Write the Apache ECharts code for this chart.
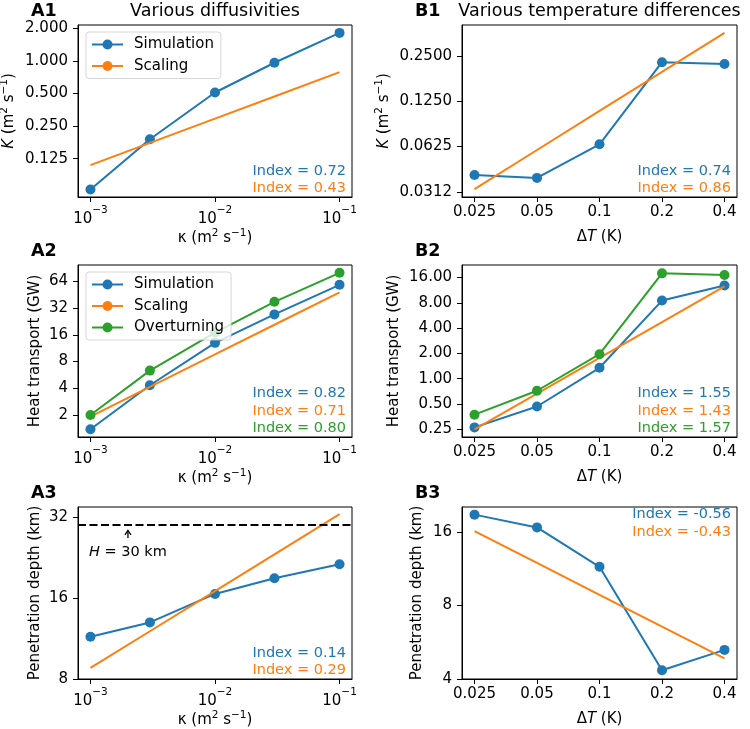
<!DOCTYPE html>
<html><head><meta charset="utf-8">
<script src="https://cdn.jsdelivr.net/npm/echarts@6/dist/echarts.min.js"></script>
<style>html,body{margin:0;padding:0;background:#fff}#c{width:750px;height:729px}</style>
</head><body><div id="c"></div>
<script>
// ---------- data ----------
const kappa = [0.001, 0.003, 0.01, 0.03, 0.1];
const deltaT = [0.025, 0.05, 0.1, 0.2, 0.4];

const a1Sim = [0.065, 0.189, 0.51, 0.96, 1.81];
const a1Scale = [0.109, 0.175, 0.293, 0.469, 0.786];
const b1Sim = [0.0405, 0.0387, 0.0647, 0.227, 0.221];
const b1Scale = [0.0326, 0.0593, 0.1078, 0.196, 0.356];
const a2Sim = [1.38, 4.33, 13.0, 27.2, 58.6];
const a2Scale = [1.92, 4.14, 9.62, 20.8, 48.1];
const a2Over = [2.0, 6.33, 17.0, 37.7, 80];
const b2Sim = [0.264, 0.468, 1.35, 8.5, 12.85];
const b2Scale = [0.25, 0.665, 1.77, 4.70, 12.5];
const b2Over = [0.374, 0.72, 1.96, 17.9, 17.1];
const a3Sim = [11.5, 13.0, 16.6, 19.0, 21.4];
const a3Scale = [8.8, 12.05, 17.0, 23.3, 32.9];
const b3Sim = [18.8, 16.67, 11.5, 4.34, 5.26];
const b3Scale = [16.1, 11.93, 8.84, 6.55, 4.86];
const domainDepth = 30;          // H = 30 km
const annotKappa = 0.002;        // x of the H annotation arrow

const indexA1 = ['Index = 0.72', 'Index = 0.43'];
const indexB1 = ['Index = 0.74', 'Index = 0.86'];
const indexA2 = ['Index = 0.82', 'Index = 0.71', 'Index = 0.80'];
const indexB2 = ['Index = 1.55', 'Index = 1.43', 'Index = 1.57'];
const indexA3 = ['Index = 0.14', 'Index = 0.29'];
const indexB3 = ['Index = -0.56', 'Index = -0.43'];

// ticks
const kappaTicks = [0.001, 0.01, 0.1];
const kappaTickLabels = ['{b|10}{s|−3}', '{b|10}{s|−2}', '{b|10}{s|−1}'];
const dTTicks = [0.025, 0.05, 0.1, 0.2, 0.4];
const dTTickLabels = ['0.025', '0.05', '0.1', '0.2', '0.4'];
const a1YTicks = [0.125, 0.25, 0.5, 1, 2];
const a1YTickLabels = ['0.125', '0.250', '0.500', '1.000', '2.000'];
const b1YTicks = [0.03125, 0.0625, 0.125, 0.25];
const b1YTickLabels = ['0.0312', '0.0625', '0.1250', '0.2500'];
const a2YTicks = [2, 4, 8, 16, 32, 64];
const a2YTickLabels = ['2', '4', '8', '16', '32', '64'];
const b2YTicks = [0.25, 0.5, 1, 2, 4, 8, 16];
const b2YTickLabels = ['0.25', '0.50', '1.00', '2.00', '4.00', '8.00', '16.00'];
const a3YTicks = [8, 16, 32];
const a3YTickLabels = ['8', '16', '32'];
const b3YTicks = [4, 8, 16];
const b3YTickLabels = ['4', '8', '16'];

// axis ranges
const kappaRange = [7.943e-4, 0.12589];
const dTRange = [0.021764, 0.45948];
const a1YRange = [0.0554, 2.14];
const b1YRange = [0.0289, 0.401];
const a2YRange = [1.13, 98];
const b2YRange = [0.203, 22.5];
const a3YRange = [7.999, 35];
const b3YRange = [3.9995, 20.2];

// axis names
const kappaName = 'κ (m{s|2} s{s|−1})';
const dTName = 'Δ{i|T} (K)';
const kName = '{i|K} (m{s|2} s{s|−1})';
const heatName = 'Heat transport (GW)';
const depthName = 'Penetration depth (km)';

// ---------- style / layout ----------
const FONT = 'DejaVu Sans';
const COL = { blue: '#1f77b4', orange: '#ff7f0e', green: '#2ca02c' };
const GRID_COL = { A: { left: 78, width: 274 }, B: { left: 462, width: 275 } };
const ROW_TOP = [25, 265, 507];
const ROW_H = 172;
const FS = 15;
const IFS = 14.5;

const panels = [
  { id: 'A1', col: 'A', row: 0, x: kappa, xt: kappaTicks, xl: kappaTickLabels, xr: kappaRange, xn: kappaName,
    yt: a1YTicks, yl: a1YTickLabels, yr: a1YRange, yn: kName, yGap: 59,
    series: [['Simulation', a1Sim, 'blue', true], ['Scaling', a1Scale, 'orange', false]],
    index: indexA1, idxColors: ['blue', 'orange'], idxTop: false,
    legend: ['Simulation', 'Scaling'], title: 'Various diffusivities' },
  { id: 'B1', col: 'B', row: 0, x: deltaT, xt: dTTicks, xl: dTTickLabels, xr: dTRange, xn: dTName,
    yt: b1YTicks, yl: b1YTickLabels, yr: b1YRange, yn: kName, yGap: 68,
    series: [['Simulation', b1Sim, 'blue', true], ['Scaling', b1Scale, 'orange', false]],
    index: indexB1, idxColors: ['blue', 'orange'], idxTop: false, title: 'Various temperature differences' },
  { id: 'A2', col: 'A', row: 1, x: kappa, xt: kappaTicks, xl: kappaTickLabels, xr: kappaRange, xn: kappaName,
    yt: a2YTicks, yl: a2YTickLabels, yr: a2YRange, yn: heatName, yGap: 33,
    series: [['Simulation', a2Sim, 'blue', true], ['Scaling', a2Scale, 'orange', false], ['Overturning', a2Over, 'green', true]],
    index: indexA2, idxColors: ['blue', 'orange', 'green'], idxTop: false,
    legend: ['Simulation', 'Scaling', 'Overturning'] },
  { id: 'B2', col: 'B', row: 1, x: deltaT, xt: dTTicks, xl: dTTickLabels, xr: dTRange, xn: dTName,
    yt: b2YTicks, yl: b2YTickLabels, yr: b2YRange, yn: heatName, yGap: 58,
    series: [['Simulation', b2Sim, 'blue', true], ['Scaling', b2Scale, 'orange', false], ['Overturning', b2Over, 'green', true]],
    index: indexB2, idxColors: ['blue', 'orange', 'green'], idxTop: false },
  { id: 'A3', col: 'A', row: 2, x: kappa, xt: kappaTicks, xl: kappaTickLabels, xr: kappaRange, xn: kappaName,
    yt: a3YTicks, yl: a3YTickLabels, yr: a3YRange, yn: depthName, yGap: 33,
    series: [['Simulation', a3Sim, 'blue', true], ['Scaling', a3Scale, 'orange', false]],
    index: indexA3, idxColors: ['blue', 'orange'], idxTop: false, hLine: true },
  { id: 'B3', col: 'B', row: 2, x: deltaT, xt: dTTicks, xl: dTTickLabels, xr: dTRange, xn: dTName,
    yt: b3YTicks, yl: b3YTickLabels, yr: b3YRange, yn: depthName, yGap: 35,
    series: [['Simulation', b3Sim, 'blue', true], ['Scaling', b3Scale, 'orange', false]],
    index: indexB3, idxColors: ['blue', 'orange'], idxTop: true }
];

function fmt(ticks, labels) {
  return function (v) {
    let best = -1, bd = Infinity;
    ticks.forEach((t, i) => { const d = Math.abs(Math.log(v / t)); if (d < bd) { bd = d; best = i; } });
    return bd < 0.01 ? labels[best] : '';
  };
}
const richText = {
  i: { fontStyle: 'italic', fontFamily: FONT, fontSize: FS, color: '#000' },
  b: { fontFamily: FONT, fontSize: FS, color: '#000', lineHeight: 22, verticalAlign: 'bottom' },
  s: { fontFamily: FONT, fontSize: 10.5, color: '#000', lineHeight: 11, verticalAlign: 'top' }
};

const grid = [], xAxis = [], yAxis = [], series = [], legend = [], graphic = [];
panels.forEach((p, k) => {
  const g = GRID_COL[p.col];
  const top = ROW_TOP[p.row];
  grid.push({ left: g.left, top: top, width: g.width, height: ROW_H, show: true,
    borderColor: '#000', borderWidth: 1, backgroundColor: 'transparent', outerBoundsMode: 'none', containLabel: false });
  xAxis.push({ type: 'log', gridIndex: k, logBase: 10, min: p.xr[0], max: p.xr[1],
    axisLine: { show: true, lineStyle: { color: '#000', width: 1 } },
    axisTick: { show: true, customValues: p.xt, length: 5, lineStyle: { color: '#000', width: 1 } },
    axisLabel: { show: true, customValues: p.xt, formatter: fmt(p.xt, p.xl), color: '#000', fontSize: FS, fontFamily: FONT,
      margin: 8, rich: richText },
    splitLine: { show: false }, minorTick: { show: false }, minorSplitLine: { show: false },
    name: p.xn, nameLocation: 'middle', nameGap: 30,
    nameTextStyle: { color: '#000', fontSize: FS, fontFamily: FONT, lineHeight: 20, rich: richText } });
  yAxis.push({ type: 'log', gridIndex: k, logBase: 2, min: p.yr[0], max: p.yr[1],
    axisLine: { show: true, lineStyle: { color: '#000', width: 1 } },
    axisTick: { show: true, customValues: p.yt, length: 5, lineStyle: { color: '#000', width: 1 } },
    axisLabel: { show: true, customValues: p.yt, formatter: fmt(p.yt, p.yl), color: '#000', fontSize: FS, fontFamily: FONT, margin: 10 },
    splitLine: { show: false }, minorTick: { show: false }, minorSplitLine: { show: false },
    name: p.yn, nameLocation: 'middle', nameRotate: 90, nameGap: p.yGap,
    nameTextStyle: { color: '#000', fontSize: FS, fontFamily: FONT, lineHeight: 20, rich: richText } });
  p.series.forEach(([name, ys, c, marker], j) => {
    const s = {
      type: 'line', name: name, xAxisIndex: k, yAxisIndex: k,
      data: p.x.map((xv, i) => [xv, ys[i]]),
      symbol: marker ? 'circle' : 'none', showSymbol: marker, symbolSize: 10,
      lineStyle: { color: COL[c], width: 2 }, itemStyle: { color: COL[c] },
      emphasis: { disabled: true }, silent: true, animation: false, z: 2 + j * 0.1
    };
    if (p.hLine && j === 0) {
      s.markLine = { silent: true, symbol: ['none', 'none'], animation: false,
        label: { show: false },
        lineStyle: { color: '#000', width: 2, type: [8, 3.5] },
        emphasis: { disabled: true },
        data: [{ yAxis: domainDepth }] };
    }
    series.push(s);
  });
  if (p.legend) {
    legend.push({ selectedMode: false, orient: 'vertical', left: g.left + 8, top: top + 7,
      data: p.legend, itemWidth: 31, itemHeight: 12.5, itemGap: 6.5,
      padding: [5, 7, 5, 5],
      backgroundColor: 'rgba(255,255,255,0.8)', borderColor: 'rgba(204,204,204,0.8)', borderWidth: 1, borderRadius: 3,
      textStyle: { color: '#000', fontSize: FS, fontFamily: FONT, padding: [0, 0, 0, 6] } });
  }
  // panel label
  graphic.push({ type: 'text', x: g.left - 47, y: top - 13.5, silent: true,
    style: { text: p.id, fontSize: 17.5, fontWeight: 'bold', fontFamily: FONT, fill: '#000', align: 'left', verticalAlign: 'middle' } });
  if (p.title) {
    graphic.push({ type: 'text', x: g.left + g.width / 2, y: top - 14, silent: true,
      style: { text: p.title, fontSize: 17.5, fontFamily: FONT, fill: '#000', align: 'center', verticalAlign: 'middle' } });
  }
  // index texts
  const n = p.index.length;
  p.index.forEach((t, i) => {
    const yy = p.idxTop ? top + 7.6 + i * 17.4 : top + ROW_H - 8.7 - (n - 1 - i) * 17.4;
    graphic.push({ type: 'text', x: g.left + g.width - 6, y: yy, silent: true,
      style: { text: t, fontSize: IFS, fontFamily: FONT, fill: COL[p.idxColors[i]], align: 'right', verticalAlign: 'middle' } });
  });
});

const chart = echarts.init(document.getElementById('c'), null, { renderer: 'canvas' });
chart.setOption({ animation: false, backgroundColor: '#fff', textStyle: { fontFamily: FONT },
  grid, xAxis, yAxis, series, legend });

// H annotation placed through the axes' scales
const pt = chart.convertToPixel({ gridIndex: 4 }, [annotKappa, domainDepth]);
const ax = pt[0], ay = pt[1];
graphic.push({ type: 'polyline', silent: true, shape: { points: [[ax, ay + 13], [ax, ay + 5.5]] }, style: { stroke: '#000', lineWidth: 1.3, fill: null } });
graphic.push({ type: 'polyline', silent: true, shape: { points: [[ax - 3, ay + 10], [ax, ay + 5.5], [ax + 3, ay + 10]] }, style: { stroke: '#000', lineWidth: 1.3, fill: null } });
graphic.push({ type: 'text', x: ax, y: ay + 27, silent: true,
  style: { text: '{i|H} = 30 km', fontSize: IFS, fontFamily: FONT, fill: '#000', align: 'center', verticalAlign: 'middle',
    rich: { i: { fontStyle: 'italic', fontFamily: FONT, fontSize: IFS, fill: '#000' } } } });
chart.setOption({ graphic: graphic });
</script></body></html>
